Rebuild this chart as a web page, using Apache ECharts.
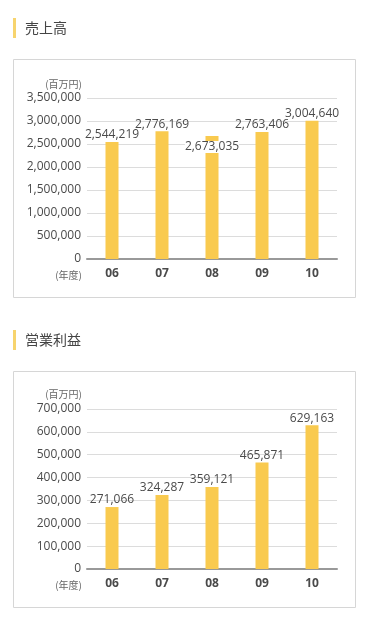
<!DOCTYPE html>
<html><head><meta charset="utf-8">
<script src="https://cdn.jsdelivr.net/npm/echarts@6/dist/echarts.min.js"></script>
<style>html,body{margin:0;padding:0;background:#fff;}#c{width:368px;height:625px;}</style>
</head><body><div id="c"></div>
<script>
const categories = ['06', '07', '08', '09', '10'];
const salesValues = [2544219, 2776169, 2673035, 2763406, 3004640];
const profitValues = [271066, 324287, 359121, 465871, 629163];
const salesTicks = [0, 500000, 1000000, 1500000, 2000000, 2500000, 3000000, 3500000];
const profitTicks = [0, 100000, 200000, 300000, 400000, 500000, 600000, 700000];
const titles = ['売上高', '営業利益'];
const unitLabel = '(百万円)';
const yearLabel = '(年度)';

const fmt = v => v.toLocaleString('en-US');
const textColor = '#4a4a4a';
const barColor = '#F9CA4F';
const numFont = '"Open Sans", "Noto Sans", sans-serif';
const cjkFont = '"Noto Sans CJK JP", sans-serif';

function yAxis(gi, ticks) {
  return {
    type: 'value', gridIndex: gi, min: ticks[0], max: ticks[ticks.length - 1],
    interval: ticks[1] - ticks[0],
    axisLine: { show: false }, axisTick: { show: false },
    axisLabel: { color: textColor, fontSize: 12, fontFamily: numFont, margin: 6, formatter: v => fmt(v) },
    splitLine: { lineStyle: { color: '#dcdcdc', width: 1 } }
  };
}
function xAxis(gi) {
  return {
    type: 'category', gridIndex: gi, data: categories,
    axisLine: { lineStyle: { color: '#999', width: 2 } },
    axisTick: { alignWithLabel: true, length: 5, lineStyle: { color: '#aaa' } },
    axisLabel: { color: textColor, fontSize: 12, fontWeight: 'bold', fontFamily: numFont, margin: 9 }
  };
}
function barData(values, specialIdx) {
  return values.map((v, i) => {
    if (i === specialIdx) {
      return { value: v, label: { position: 'insideTop', distance: 5, backgroundColor: '#fff' } };
    }
    return v;
  });
}
function series(gi, values, specialIdx) {
  return {
    type: 'bar', xAxisIndex: gi, yAxisIndex: gi, barWidth: 13,
    data: barData(values, specialIdx),
    itemStyle: { color: barColor },
    label: { show: true, position: 'top', distance: 1, color: textColor, fontSize: 12, fontFamily: numFont,
      formatter: p => fmt(p.value) },
    animation: false
  };
}
function headerGraphics(y, title) {
  return [
    { type: 'rect', shape: { x: 13, y: y - 10, width: 3, height: 20 }, style: { fill: '#F7D46E' } },
    { type: 'text', x: 25, y: y, style: { text: title, fontSize: 14, fontFamily: cjkFont, fill: '#444', verticalAlign: 'middle' } }
  ];
}
function boxGraphics(top, bottom, unitY, yearY) {
  return [
    { type: 'rect', shape: { x: 13.5, y: top + 0.5, width: 342, height: bottom - top }, style: { fill: 'none', stroke: '#d6d6d6', lineWidth: 1 }, z: -1 },
    { type: 'text', x: 82, y: unitY, style: { text: unitLabel, fontSize: 10, fontFamily: cjkFont, fill: '#666', align: 'right', verticalAlign: 'middle' } },
    { type: 'text', x: 82, y: yearY, style: { text: yearLabel, fontSize: 10, fontFamily: cjkFont, fill: '#666', align: 'right', verticalAlign: 'middle' } }
  ];
}

const chart = echarts.init(document.getElementById('c'), null, { renderer: 'canvas' });
chart.setOption({
  animation: false,
  grid: [
    { left: 87, right: 31, top: 98, height: 161 },
    { left: 87, right: 31, top: 409, height: 160 }
  ],
  xAxis: [xAxis(0), xAxis(1)],
  yAxis: [yAxis(0, salesTicks), yAxis(1, profitTicks)],
  series: [series(0, salesValues, 2), series(1, profitValues, -1)],
  graphic: [
    ...headerGraphics(28, titles[0]),
    ...boxGraphics(59, 297, 84, 275),
    ...headerGraphics(340, titles[1]),
    ...boxGraphics(371, 607, 394, 585)
  ]
});
</script></body></html>
